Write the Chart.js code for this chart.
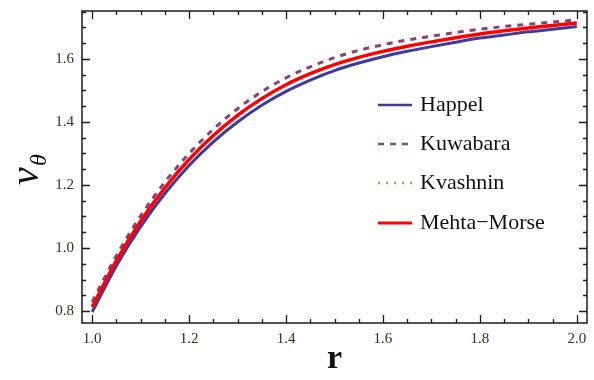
<!DOCTYPE html>
<html>
<head>
<meta charset="utf-8">
<script src="https://cdn.jsdelivr.net/npm/chart.js@4"></script>
<style>
  html, body { margin: 0; padding: 0; background: #ffffff; }
  #wrap { width: 594px; height: 380px; position: relative; }
</style>
</head>
<body>
<div id="wrap"><canvas id="chart" width="594" height="380"></canvas></div>
<script>
// ===============================
// Data
// ===============================
const rValues = [1.00, 1.05, 1.10, 1.15, 1.20, 1.25, 1.30, 1.35, 1.40, 1.45, 1.50,
                 1.55, 1.60, 1.65, 1.70, 1.75, 1.80, 1.85, 1.90, 1.95, 2.00];

const happel = [0.797, 0.944, 1.068, 1.173, 1.262, 1.337, 1.400, 1.453, 1.497, 1.533, 1.563,
                1.587, 1.607, 1.624, 1.639, 1.653, 1.666, 1.676, 1.686, 1.694, 1.703];

const kuwabara = [0.829, 0.976, 1.102, 1.209, 1.300, 1.377, 1.442, 1.496, 1.540, 1.575, 1.604,
                  1.627, 1.645, 1.660, 1.672, 1.684, 1.694, 1.703, 1.710, 1.717, 1.724];

const kvashnin = [0.813, 0.960, 1.085, 1.191, 1.281, 1.357, 1.421, 1.474, 1.518, 1.553, 1.582,
                  1.605, 1.624, 1.640, 1.654, 1.667, 1.679, 1.689, 1.698, 1.706, 1.714];

const mehtaMorse = [0.813, 0.960, 1.085, 1.191, 1.281, 1.357, 1.421, 1.474, 1.518, 1.553, 1.582,
                    1.605, 1.624, 1.640, 1.654, 1.667, 1.679, 1.689, 1.698, 1.706, 1.714];

const xTickLabels = [1.0, 1.2, 1.4, 1.6, 1.8, 2.0];
const yTickLabels = [0.8, 1.0, 1.2, 1.4, 1.6];
const minorStep = 0.05;

const serif = "'Liberation Serif', 'DejaVu Serif', serif";

function toPoints(values) {
  return rValues.map((r, i) => ({ x: r, y: values[i] }));
}

// ===============================
// Frame ticks (inside, all four sides), y title and legend
// ===============================
const frameTicks = {
  id: "frameTicks",
  afterDraw(chart) {
    const { ctx, chartArea: a, scales } = chart;
    const xs = scales.x, ys = scales.y;
    ctx.save();
    ctx.strokeStyle = "#1a1a1a";
    ctx.lineWidth = 1.5;
    ctx.strokeRect(a.left, a.top, a.right - a.left, a.bottom - a.top);

    const isMajor = (v, list) => list.some((t) => Math.abs(t - v) < 1e-6);

    ctx.lineWidth = 1.3;
    for (let v = 1.0; v <= 2.0 + 1e-9; v += minorStep) {
      const px = Math.round(xs.getPixelForValue(v)) + 0.5;
      const len = isMajor(v, xTickLabels) ? 8 : 4;
      ctx.beginPath();
      ctx.moveTo(px, a.bottom); ctx.lineTo(px, a.bottom - len);
      ctx.moveTo(px, a.top); ctx.lineTo(px, a.top + len);
      ctx.stroke();
    }
    for (let v = 0.8; v <= 1.75 + 1e-9; v += minorStep) {
      const py = Math.round(ys.getPixelForValue(v)) + 0.5;
      const len = isMajor(v, yTickLabels) ? 8 : 4;
      ctx.beginPath();
      ctx.moveTo(a.left, py); ctx.lineTo(a.left + len, py);
      ctx.moveTo(a.right, py); ctx.lineTo(a.right - len, py);
      ctx.stroke();
    }

    // y title: v with subscript theta
    ctx.translate(34, (a.top + a.bottom) / 2);
    ctx.rotate(-Math.PI / 2);
    ctx.fillStyle = "#111";
    ctx.textBaseline = "alphabetic";
    ctx.font = "italic 40px " + serif;
    const vw = ctx.measureText("v").width;
    const total = vw + 18;
    ctx.fillText("v", -total / 2, 4);
    ctx.font = "italic 24px " + serif;
    ctx.fillText("\u03b8", -total / 2 + vw + 1, 12);
    ctx.restore();

    // legend
    ctx.save();
    ctx.font = "22px " + serif;
    ctx.textBaseline = "middle";
    const rowY = [105, 144, 183, 223];
    chart.data.datasets.forEach((ds, i) => {
      const y = rowY[i];
      ctx.strokeStyle = ds.borderColor;
      ctx.lineWidth = ds.legendWidth;
      ctx.setLineDash(ds.borderDash || []);
      ctx.beginPath();
      ctx.moveTo(378, y);
      ctx.lineTo(412, y);
      ctx.stroke();
      ctx.setLineDash([]);
      ctx.fillStyle = "#111";
      ctx.fillText(ds.label, 420, y);
    });
    ctx.restore();
  },
};

new Chart(document.getElementById("chart"), {
  type: "line",

  data: {
    datasets: [
      {
        label: "Happel",
        data: toPoints(happel),
        borderColor: "#3b3ba0",
        borderWidth: 3,
        legendWidth: 2.5,
        order: 4,
      },
      {
        label: "Kuwabara",
        data: toPoints(kuwabara),
        borderColor: "#8e3f78",
        borderWidth: 3,
        borderDash: [6, 6],
        legendWidth: 2.5,
        order: 3,
      },
      {
        label: "Kvashnin",
        data: toPoints(kvashnin),
        borderColor: "#a89a52",
        borderWidth: 3,
        borderDash: [2, 6],
        legendWidth: 2.5,
        order: 2,
      },
      {
        label: "Mehta\u2212Morse",
        data: toPoints(mehtaMorse),
        borderColor: "#ff0000",
        borderWidth: 3.5,
        legendWidth: 3,
        order: 1,
      },
    ],
  },

  options: {
    responsive: false,
    animation: false,
    events: [],
    layout: {
      padding: { left: 0, right: 7, top: 11, bottom: 0 },
    },
    elements: {
      point: { radius: 0 },
      line: { cubicInterpolationMode: "monotone", borderCapStyle: "butt" },
    },
    plugins: {
      legend: { display: false },
      tooltip: { enabled: false },
    },
    scales: {
      x: {
        type: "linear",
        min: 0.979,
        max: 2.021,
        afterFit(scale) {
          scale.height = 57;
          scale.paddingLeft = 0;
          scale.paddingRight = 0;
        },
        afterBuildTicks(scale) { scale.ticks = xTickLabels.map((v) => ({ value: v })); },
        grid: { display: false, drawTicks: false },
        border: { display: false },
        ticks: {
          padding: 7,
          color: "#3a2a1a",
          font: { family: serif, size: 15 },
          callback: (v) => v.toFixed(1),
        },
        title: {
          display: true,
          text: "r",
          color: "#111",
          font: { family: serif, size: 34, weight: "bold" },
          padding: { top: 0, bottom: 0 },
        },
      },
      y: {
        type: "linear",
        min: 0.762,
        max: 1.752,
        afterFit(scale) {
          scale.width = 82;
          scale.paddingTop = 0;
          scale.paddingBottom = 0;
        },
        afterBuildTicks(scale) { scale.ticks = yTickLabels.map((v) => ({ value: v })); },
        grid: { display: false, drawTicks: false },
        border: { display: false },
        ticks: {
          padding: 8,
          color: "#3a2a1a",
          font: { family: serif, size: 15 },
          callback: (v) => v.toFixed(1),
        },
      },
    },
  },

  plugins: [frameTicks],
});
</script>
</body>
</html>
